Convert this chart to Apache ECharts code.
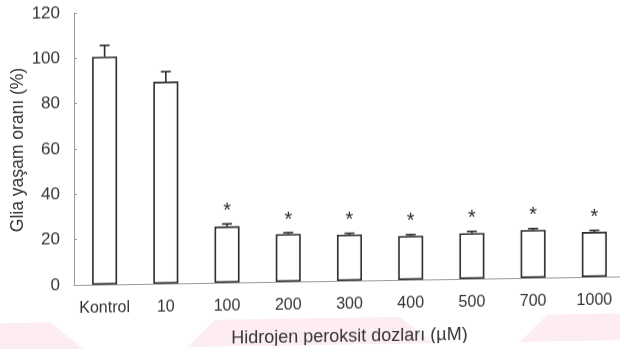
<!DOCTYPE html>
<html>
<head>
<meta charset="utf-8">
<script src="https://cdn.jsdelivr.net/npm/echarts@6/dist/echarts.min.js"></script>
<style>
  html, body { margin: 0; padding: 0; background: #fff; overflow: hidden; }
  #wrap { width: 620px; height: 349px; transform: skewY(-0.9deg); transform-origin: 74px 285px; }
  #chart { width: 620px; height: 349px; }
</style>
</head>
<body>
<div id="wrap"><div id="chart"></div></div>
<script>
// Glial cell viability after hydrogen peroxide exposure
const doses = ['Kontrol', '10', '100', '200', '300', '400', '500', '700', '1000'];
const viability = [100.5, 89.1, 24.8, 21.0, 20.3, 19.3, 20.1, 21.1, 19.8];
const sem = [5.0, 4.4, 1.1, 0.6, 0.6, 0.6, 0.8, 0.6, 0.7];
const significant = [false, false, true, true, true, true, true, true, true];
const yTicks = [0, 20, 40, 60, 80, 100, 120];

const chart = echarts.init(document.getElementById('chart'), null, { renderer: 'canvas' });

const ink = '#2b2b2b';
const textColor = '#333';
const fontFamily = '"Liberation Sans", Arial, sans-serif';

const errData = doses.map((d, i) => [i, viability[i], sem[i], significant[i] ? 1 : 0]);

chart.setOption({
  animation: false,
  backgroundColor: '#fff',
  graphic: [
    { type: 'polygon', z: -10, silent: true,
      shape: { points: [[0, 322], [50, 322], [83, 349], [0, 349]] },
      style: { fill: '#fdedf0' } },
    { type: 'polygon', z: -10, silent: true,
      shape: { points: [[187, 349], [215, 322], [400, 322], [433, 349]] },
      style: { fill: '#fdedf0' } },
    { type: 'polygon', z: -10, silent: true,
      shape: { points: [[520, 349], [547, 322], [620, 322], [620, 349]] },
      style: { fill: '#fdedf0' } }
  ],
  grid: { left: 74, top: 13, width: 551, height: 272, containLabel: false, outerBoundsMode: 'none' },
  xAxis: {
    type: 'category',
    data: doses,
    axisLine: { lineStyle: { color: '#9a9a9a', width: 1 } },
    axisTick: { show: false },
    axisLabel: { color: textColor, fontSize: 16, fontFamily, margin: 16, interval: 0 },
    name: 'Hidrojen peroksit dozları (µM)',
    nameLocation: 'middle',
    nameGap: 47,
    nameMoveOverlap: false,
    nameTextStyle: { color: textColor, fontSize: 18, fontFamily }
  },
  yAxis: {
    type: 'value',
    min: yTicks[0],
    max: yTicks[yTicks.length - 1],
    interval: yTicks[1] - yTicks[0],
    axisLine: { show: true, lineStyle: { color: '#9a9a9a', width: 1 } },
    axisTick: { show: true, inside: true, length: 3, lineStyle: { color: '#9a9a9a' } },
    splitLine: { show: false },
    axisLabel: { color: textColor, fontSize: 17, fontFamily, margin: 14 },
    name: 'Glia yaşam oranı (%)',
    nameLocation: 'middle',
    nameGap: 47,
    nameMoveOverlap: false,
    nameTextStyle: { color: textColor, fontSize: 17.5, fontFamily }
  },
  series: [
    {
      type: 'bar',
      data: viability,
      barWidth: 25,
      itemStyle: { color: '#fff', borderColor: ink, borderWidth: 1.6 }
    },
    {
      type: 'custom',
      data: errData,
      z: 5,
      renderItem: function (params, api) {
        const i = api.value(0);
        const v = api.value(1);
        const e = api.value(2);
        const star = api.value(3);
        const base = api.coord([i, v]);
        const top = api.coord([i, v + e]);
        const half = 5;
        const children = [
          { type: 'line', shape: { x1: base[0], y1: base[1], x2: top[0], y2: top[1] },
            style: { stroke: ink, lineWidth: 1.6 } },
          { type: 'line', shape: { x1: top[0] - half, y1: top[1], x2: top[0] + half, y2: top[1] },
            style: { stroke: ink, lineWidth: 1.6 } }
        ];
        if (star) {
          children.push({
            type: 'text',
            style: {
              text: '*', x: top[0], y: top[1] - 3,
              fill: ink, fontSize: 20, fontFamily,
              align: 'center', verticalAlign: 'bottom'
            }
          });
        }
        return { type: 'group', children };
      }
    }
  ]
});
</script>
</body>
</html>
